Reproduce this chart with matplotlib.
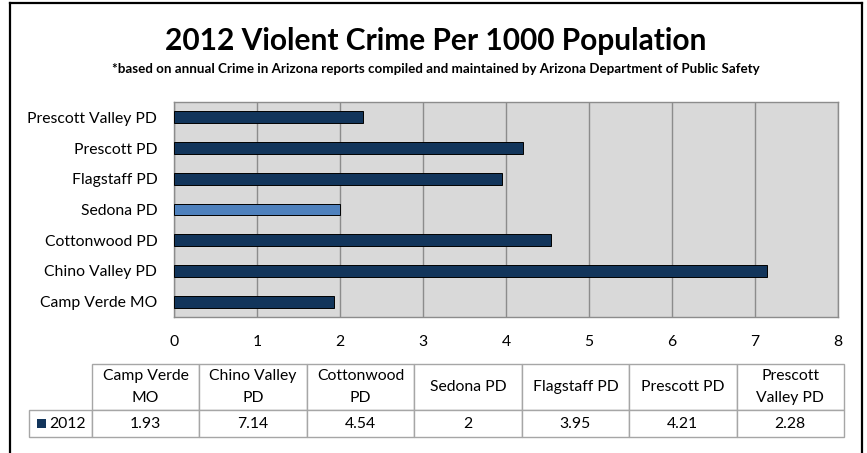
import matplotlib
matplotlib.use("Agg")
import matplotlib.pyplot as plt
from matplotlib.table import Table
from matplotlib.patches import Rectangle
from matplotlib.lines import Line2D

plt.rcParams['font.family'] = ['Lato', 'DejaVu Sans']

agencies = ["Camp Verde MO", "Chino Valley PD", "Cottonwood PD", "Sedona PD",
            "Flagstaff PD", "Prescott PD", "Prescott Valley PD"]
table_headers = ["Camp Verde\nMO", "Chino Valley\nPD", "Cottonwood\nPD", "Sedona PD",
                 "Flagstaff PD", "Prescott PD", "Prescott\nValley PD"]
crime_2012 = [1.93, 7.14, 4.54, 2, 3.95, 4.21, 2.28]
value_labels = ["1.93", "7.14", "4.54", "2", "3.95", "4.21", "2.28"]
series_name = "2012"
xticks = [0, 1, 2, 3, 4, 5, 6, 7, 8]

W, H = 867, 453
navy = "#12355b"
sedona_blue = "#4f81bd"
grid_gray = "#8c8c8c"
cell_gray = "#a6a6a6"
fs = 11.3

fig = plt.figure(figsize=(W / 100, H / 100), dpi=100)

def fx(px):
    return px / W

def fy(py):
    return 1 - py / H

# outer frame (bottom runs off the picture)
for xs, ys in [([10, 10], [3, 460]), ([862, 862], [3, 460]), ([10, 862], [3, 3])]:
    fig.add_artist(Line2D([fx(v) for v in xs], [fy(v) for v in ys], color="black", lw=1.6,
                          transform=fig.transFigure))

fig.text(fx(436), fy(41), "2012 Violent Crime Per 1000 Population", ha="center", va="center",
         fontsize=21.5, fontweight="bold")
fig.text(fx(436), fy(69), "*based on annual Crime in Arizona reports compiled and maintained "
         "by Arizona Department of Public Safety", ha="center", va="center",
         fontsize=9.6, fontweight="bold")

# bar chart
ax = fig.add_axes([fx(174), fy(317), fx(838) - fx(174), fy(102) - fy(317)])
ax.set_facecolor("#d9d9d9")
colors = [sedona_blue if a == "Sedona PD" else navy for a in agencies]
ax.barh(range(len(agencies)), crime_2012, height=0.39, color=colors, edgecolor="black", lw=0.7,
        zorder=3)
ax.set_xlim(0, 8)
ax.set_ylim(-0.5, len(agencies) - 0.5)
ax.set_xticks(xticks)
ax.set_xticklabels([str(t) for t in xticks])
ax.set_yticks(range(len(agencies)))
ax.set_yticklabels(agencies)
ax.grid(axis="x", color=grid_gray, lw=1, zorder=1)
ax.tick_params(length=0, labelsize=fs)
ax.tick_params(axis="y", pad=12)
ax.tick_params(axis="x", pad=13)
for s in ax.spines.values():
    s.set_color(grid_gray)
    s.set_linewidth(1)

# data table
tax = fig.add_axes([fx(29), fy(437), fx(844) - fx(29), fy(364) - fy(437)])
tax.set_axis_off()
tbl = Table(tax, bbox=[0, 0, 1, 1])
label_w, col_w = 63, 107.5
head_h, row_h = 46, 27
for j, (hdr, val) in enumerate(zip(table_headers, value_labels)):
    c = tbl.add_cell(0, j + 1, width=col_w, height=head_h, text=hdr, loc="center")
    c.set_edgecolor(cell_gray)
    c.get_text().set_fontsize(fs)
    c.get_text().set_linespacing(1.7)
    c = tbl.add_cell(1, j + 1, width=col_w, height=row_h, text=val, loc="center")
    c.set_edgecolor(cell_gray)
    c.get_text().set_fontsize(fs)
c = tbl.add_cell(1, 0, width=label_w, height=row_h, text=series_name, loc="right")
c.set_edgecolor(cell_gray)
c.get_text().set_fontsize(fs)
tbl.auto_set_font_size(False)
tax.add_table(tbl)
fig.add_artist(Rectangle((fx(37), fy(428)), fx(9), fy(419) - fy(428), facecolor=navy,
                         edgecolor="none", transform=fig.transFigure))

fig.savefig("out.png", dpi=100)
